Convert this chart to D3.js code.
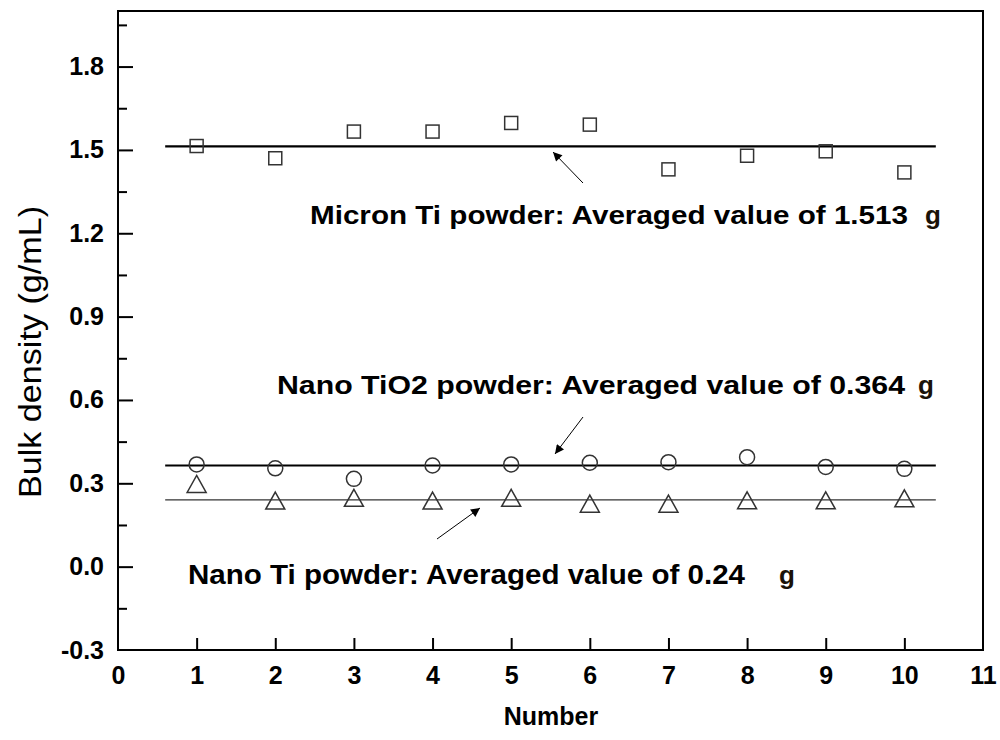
<!DOCTYPE html>
<html>
<head>
<meta charset="utf-8">
<script src="https://cdn.jsdelivr.net/npm/d3@7"></script>
<style>
  body { margin: 0; background: #fff; }
  svg { display: block; font-family: Arial, "Liberation Sans", sans-serif; }
</style>
</head>
<body>
<div id="chart"></div>
<script>
// measurement number
const runs = [1, 2, 3, 4, 5, 6, 7, 8, 9, 10];
// bulk density (g/mL) per run
const micronTi = [1.514, 1.470, 1.566, 1.566, 1.597, 1.591, 1.430, 1.479, 1.495, 1.419];
const nanoTiO2 = [0.368, 0.354, 0.316, 0.364, 0.368, 0.374, 0.376, 0.394, 0.359, 0.352];
const nanoTi   = [0.296, 0.236, 0.246, 0.236, 0.246, 0.225, 0.225, 0.237, 0.237, 0.244];
// averaged values
const averages = {micron: 1.513, tio2: 0.364, ti: 0.24};
const avgSpan = [0.6, 10.4];

const xTicks = d3.range(0, 12, 1);
const yTicks = [-0.3, 0.0, 0.3, 0.6, 0.9, 1.2, 1.5, 1.8];
const yMinor = [-0.15, 0.15, 0.45, 0.75, 1.05, 1.35, 1.65, 1.95];

const W = 1000, H = 740;
const svg = d3.select("#chart").append("svg").attr("width", W).attr("height", H);

const x = d3.scaleLinear().domain([0, 11]).range([118, 983]);
const y = d3.scaleLinear().domain([-0.3, 2.0]).range([650, 11]);

// defs: arrow head
svg.append("defs").append("marker")
    .attr("id", "head")
    .attr("viewBox", "0 0 10 10")
    .attr("refX", 10).attr("refY", 5)
    .attr("markerWidth", 15).attr("markerHeight", 9)
    .attr("markerUnits", "userSpaceOnUse")
    .attr("orient", "auto")
  .append("path")
    .attr("d", "M0,0 L10,5 L0,10 Z")
    .attr("fill", "#000");

// x axis
const xAxis = svg.append("g")
    .attr("transform", `translate(0,${y(-0.3)})`)
    .call(d3.axisBottom(x).tickValues(xTicks).tickSize(-12).tickPadding(16).tickFormat(d => String(d)));
xAxis.select(".domain").remove();
xAxis.selectAll(".tick line").attr("stroke", "#000").attr("stroke-width", 2)
    .filter(d => d === 0 || d === 11).remove();
xAxis.selectAll("text").attr("font-size", 25).attr("font-weight", "bold").attr("fill", "#000");

// y axis
const yAxis = svg.append("g")
    .attr("transform", `translate(${x(0)},0)`)
    .call(d3.axisLeft(y).tickValues(yTicks).tickSize(-15).tickPadding(14).tickFormat(d => d.toFixed(1)));
yAxis.select(".domain").remove();
yAxis.selectAll(".tick line").attr("stroke", "#000").attr("stroke-width", 2)
    .filter(d => d === -0.3).remove();
yAxis.selectAll("text").attr("font-size", 25).attr("font-weight", "bold").attr("fill", "#000");

const yAxisMinor = svg.append("g")
    .attr("transform", `translate(${x(0)},0)`)
    .call(d3.axisLeft(y).tickValues(yMinor).tickSize(-9).tickFormat(""));
yAxisMinor.select(".domain").remove();
yAxisMinor.selectAll(".tick line").attr("stroke", "#000").attr("stroke-width", 2);

// frame
svg.append("rect")
    .attr("x", x(0)).attr("y", y(2.0))
    .attr("width", x(11) - x(0)).attr("height", y(-0.3) - y(2.0))
    .attr("fill", "none").attr("stroke", "#000").attr("stroke-width", 2);

// axis titles
svg.append("text")
    .attr("transform", `translate(41,352) rotate(-90)`)
    .attr("text-anchor", "middle")
    .attr("font-size", 32)
    .attr("textLength", 292).attr("lengthAdjust", "spacingAndGlyphs")
    .text("Bulk density (g/mL)");

svg.append("text")
    .attr("x", 551).attr("y", 725)
    .attr("text-anchor", "middle")
    .attr("font-size", 25).attr("font-weight", "bold")
    .text("Number");

// average lines
const avgLines = [
  {v: averages.micron, w: 2.2},
  {v: averages.tio2, w: 2.2},
  {v: averages.ti, w: 1.2}
];
svg.selectAll(".avg").data(avgLines).enter().append("line")
    .attr("class", "avg")
    .attr("x1", x(avgSpan[0])).attr("x2", x(avgSpan[1]))
    .attr("y1", d => y(d.v)).attr("y2", d => y(d.v))
    .attr("stroke", d => d.w > 2 ? "#000" : "#333")
    .attr("stroke-width", d => d.w);

// markers
const mk = "#333";
svg.selectAll(".sq").data(runs).enter().append("rect")
    .attr("class", "sq")
    .attr("x", (d, i) => x(d) - 6.5).attr("y", (d, i) => y(micronTi[i]) - 6.5)
    .attr("width", 13).attr("height", 13)
    .attr("fill", "none").attr("stroke", mk).attr("stroke-width", 1.5);

svg.selectAll(".ci").data(runs).enter().append("circle")
    .attr("class", "ci")
    .attr("cx", d => x(d)).attr("cy", (d, i) => y(nanoTiO2[i]))
    .attr("r", 7.5)
    .attr("fill", "none").attr("stroke", mk).attr("stroke-width", 1.5);

svg.selectAll(".tr").data(runs).enter().append("path")
    .attr("class", "tr")
    .attr("transform", (d, i) => `translate(${x(d)},${y(nanoTi[i])})`)
    .attr("d", "M0,-9 L9.5,8 L-9.5,8 Z")
    .attr("fill", "none").attr("stroke", mk).attr("stroke-width", 1.5);

// annotations: main text stretched to the width it has in the figure, then the "g"
const notes = [
  {x: 310, y: 224, t: "Micron Ti powder: Averaged value of 1.513", len: 598, gx: 925, size: 25},
  {x: 277, y: 394, t: "Nano TiO2 powder: Averaged value of 0.364", len: 628, gx: 918, size: 25},
  {x: 188, y: 584, t: "Nano Ti powder: Averaged value of 0.24", len: 557, gx: 779, size: 27}
];
notes.forEach(n => {
  svg.append("text")
      .attr("x", n.x).attr("y", n.y)
      .attr("font-size", n.size)
      .attr("font-weight", "bold")
      .attr("textLength", n.len).attr("lengthAdjust", "spacingAndGlyphs")
      .text(n.t);
  svg.append("text")
      .attr("x", n.gx).attr("y", n.y)
      .attr("font-size", 26).attr("font-weight", "bold")
      .attr("fill", "#1a1208")
      .text("g");
});

const arrows = [
  {x1: 583, y1: 183, x2: 553, y2: 152},
  {x1: 583, y1: 417, x2: 555, y2: 454},
  {x1: 437, y1: 539, x2: 480, y2: 508}
];
svg.selectAll(".arr").data(arrows).enter().append("line")
    .attr("class", "arr")
    .attr("x1", d => d.x1).attr("y1", d => d.y1)
    .attr("x2", d => d.x2).attr("y2", d => d.y2)
    .attr("stroke", "#000").attr("stroke-width", 1)
    .attr("marker-end", "url(#head)");
</script>
</body>
</html>
